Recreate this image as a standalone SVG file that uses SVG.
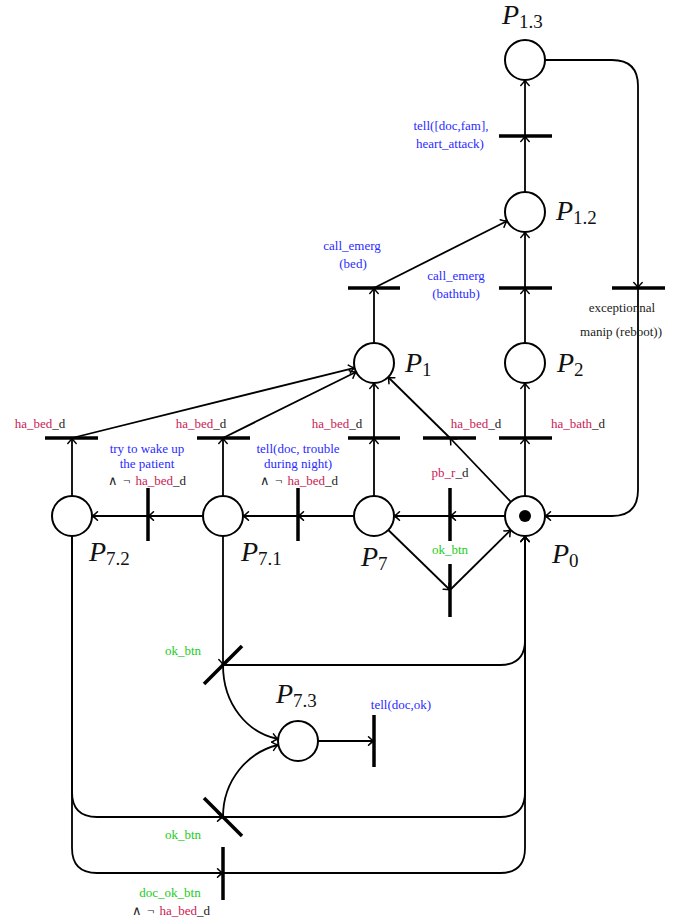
<svg xmlns="http://www.w3.org/2000/svg" width="688" height="923" viewBox="0 0 688 923">
<style>
.pl{fill:#fff;stroke:#000;stroke-width:2}
.tr{stroke:#000;stroke-width:3.5;fill:none}
.arc{stroke:#000;stroke-width:1.8;fill:none}
.lbl{font-family:"Liberation Serif",serif;font-size:13px;text-anchor:middle;fill:#222}
.b{fill:#2b2bff}
.r{fill:#cc1a55}
.g{fill:#22cc22}
.pn{font-family:"Liberation Serif",serif;font-size:28px;font-style:italic;fill:#111}
.sub{font-size:19px;font-style:normal}
</style>
<defs>
<marker id="ah" markerWidth="12" markerHeight="12" refX="0" refY="0" viewBox="-7 -6 9 12" orient="auto" markerUnits="userSpaceOnUse">
<path d="M-5.5,-4.2 C-3,-1.6 -0.8,-0.4 0,0 C-0.8,0.4 -3,1.6 -5.5,4.2" fill="none" stroke="#000" stroke-width="1.5" stroke-linecap="round"/>
</marker>
</defs>
<g id="connectors" class="arc" marker-end="url(#ah)">
<path d="M525,192 V136"/>
<path d="M525,136 V80"/>
<path d="M525,343 V288"/>
<path d="M525,288 V232"/>
<path d="M374,343 V288"/>
<path d="M374,288 L507,221"/>
<path d="M525,496 V438"/>
<path d="M525,438 V383"/>
<path d="M511,502 L450,438"/>
<path d="M450,438 L388,377"/>
<path d="M374,496 V438"/>
<path d="M374,438 V383"/>
<path d="M223,496 V438"/>
<path d="M223,438 L356,372"/>
<path d="M72,496 V438"/>
<path d="M72,438 L354.6,367.8"/>
<path d="M505,516 H450"/>
<path d="M450,516 H394"/>
<path d="M354,516 H298"/>
<path d="M298,516 H243"/>
<path d="M203,516 H148"/>
<path d="M148,516 H92"/>
<path d="M388.3,530 L450,590"/>
<path d="M450,590 L510.8,530"/>
<path d="M545,60 H612 Q638,60 638,86 V288"/>
<path d="M638,288 V490 Q638,516 612,516 H545"/>
<path d="M223,536 V665"/>
<path d="M223,665 H500 Q525,665 525,640 V536"/>
<path d="M223,665 C223,705 248,733 278,739"/>
<path d="M72,536 V792 Q72,817 97,817 H223"/>
<path d="M223,817 H500 Q525,817 525,792 V536"/>
<path d="M223,817 C223,780 248,752 278,745"/>
<path d="M72,536 V848 Q72,873 97,873 H223"/>
<path d="M223,873 H500 Q525,873 525,848 V536"/>
<path d="M318,741 H374"/>
</g>
<g id="P1.3"><circle class="pl" cx="525" cy="60" r="20"/><text class="pn" x="502" y="24">P<tspan class="sub" dy="4">1.3</tspan></text></g>
<g id="P1.2"><circle class="pl" cx="525" cy="212" r="20"/><text class="pn" x="556" y="220">P<tspan class="sub" dy="4">1.2</tspan></text></g>
<g id="P1"><circle class="pl" cx="374" cy="363" r="20"/><text class="pn" x="405" y="372">P<tspan class="sub" dy="4">1</tspan></text></g>
<g id="P2"><circle class="pl" cx="525" cy="363" r="20"/><text class="pn" x="557" y="372">P<tspan class="sub" dy="4">2</tspan></text></g>
<g id="P0"><circle class="pl" cx="525" cy="516" r="20"/><circle cx="525" cy="516" r="6" fill="#000"/><text class="pn" x="552" y="563">P<tspan class="sub" dy="4">0</tspan></text></g>
<g id="P7"><circle class="pl" cx="374" cy="516" r="20"/><text class="pn" x="361" y="566">P<tspan class="sub" dy="4">7</tspan></text></g>
<g id="P7.1"><circle class="pl" cx="223" cy="516" r="20"/><text class="pn" x="241" y="561">P<tspan class="sub" dy="4">7.1</tspan></text></g>
<g id="P7.2"><circle class="pl" cx="72" cy="516" r="20"/><text class="pn" x="89" y="561">P<tspan class="sub" dy="4">7.2</tspan></text></g>
<g id="P7.3"><circle class="pl" cx="298" cy="741" r="20"/><text class="pn" x="276" y="703">P<tspan class="sub" dy="4">7.3</tspan></text></g>
<g id="T_heart"><line class="tr" x1="499" y1="136" x2="552" y2="136"/><text class="lbl b" x="451" y="130">tell([doc,fam],</text><text class="lbl b" x="450" y="148">heart_attack)</text></g>
<g id="T_bed"><line class="tr" x1="348" y1="288" x2="400" y2="288"/><text class="lbl b" x="352" y="250">call_emerg</text><text class="lbl b" x="353" y="268">(bed)</text></g>
<g id="T_bath"><line class="tr" x1="499" y1="288" x2="552" y2="288"/><text class="lbl b" x="456" y="280">call_emerg</text><text class="lbl b" x="456" y="298">(bathtub)</text></g>
<g id="T_exc"><line class="tr" x1="612" y1="288" x2="665" y2="288"/><text class="lbl" x="622" y="312">exceptionnal</text><text class="lbl" x="621" y="336">manip (reboot))</text></g>
<g id="T_hb7"><line class="tr" x1="348" y1="438" x2="400" y2="438"/><text class="lbl" x="337" y="428"><tspan class="r">ha_bed</tspan>_d</text></g>
<g id="T_hb0"><line class="tr" x1="423" y1="438" x2="476" y2="438"/><text class="lbl" x="476" y="428"><tspan class="r">ha_bed</tspan>_d</text></g>
<g id="T_hbath"><line class="tr" x1="499" y1="438" x2="552" y2="438"/><text class="lbl" x="578" y="428"><tspan class="r">ha_bath</tspan>_d</text></g>
<g id="T_hb72"><line class="tr" x1="45" y1="438" x2="98" y2="438"/><text class="lbl" x="40" y="428"><tspan class="r">ha_bed</tspan>_d</text></g>
<g id="T_hb71"><line class="tr" x1="197" y1="438" x2="250" y2="438"/><text class="lbl" x="201" y="428"><tspan class="r">ha_bed</tspan>_d</text></g>
<g id="T_pb"><line class="tr" x1="450" y1="488" x2="450" y2="541"/><text class="lbl" x="450" y="477"><tspan class="r">pb_r</tspan>_d</text></g>
<g id="T_ok"><line class="tr" x1="450" y1="564" x2="450" y2="617"/><text class="lbl g" x="450" y="554">ok_btn</text></g>
<g id="T_tell"><line class="tr" x1="298" y1="488" x2="298" y2="541"/><text class="lbl b" x="298" y="453">tell(doc, trouble</text><text class="lbl b" x="298" y="468">during night)</text><text class="lbl" x="299" y="485">∧<tspan dx="5">¬</tspan><tspan class="r" dx="5">ha_bed</tspan>_d</text></g>
<g id="T_try"><line class="tr" x1="148" y1="488" x2="148" y2="541"/><text class="lbl b" x="147" y="453">try to wake up</text><text class="lbl b" x="147" y="468">the patient</text><text class="lbl" x="147" y="485">∧<tspan dx="5">¬</tspan><tspan class="r" dx="5">ha_bed</tspan>_d</text></g>
<g id="T_tellok"><line class="tr" x1="374" y1="715" x2="374" y2="767"/><text class="lbl b" x="401" y="709">tell(doc,ok)</text></g>
<g id="T_ok1"><line class="tr" x1="204" y1="684" x2="242" y2="646"/><text class="lbl g" x="183" y="655">ok_btn</text></g>
<g id="T_ok2"><line class="tr" x1="204" y1="798" x2="242" y2="836"/><text class="lbl g" x="183" y="839">ok_btn</text></g>
<g id="T_docok"><line class="tr" x1="223" y1="847" x2="223" y2="900"/><text class="lbl g" x="170" y="897">doc_ok_btn</text><text class="lbl" x="171" y="915">∧<tspan dx="5">¬</tspan><tspan class="r" dx="5">ha_bed</tspan>_d</text></g>
</svg>
